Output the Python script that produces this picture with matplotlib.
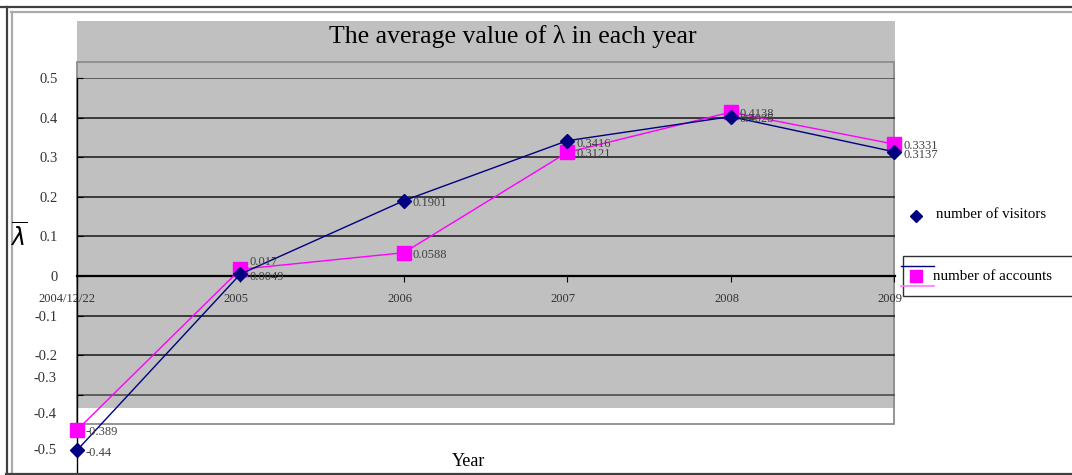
import numpy as np
import matplotlib
matplotlib.use("Agg")
from matplotlib import pyplot as plt
from matplotlib import transforms
from matplotlib.patches import Rectangle
from matplotlib.lines import Line2D

# data
x_labels = ["2004/12/22", "2005", "2006", "2007", "2008", "2009"]
visitors = [-0.44, 0.0049, 0.1901, 0.3416, 0.4025, 0.3137]
accounts = [-0.389, 0.017, 0.0588, 0.3121, 0.4138, 0.3331]
visitor_labels = ["-0.44", "0.0049", "0.1901", "0.3416", "0.4025", "0.3137"]
account_labels = ["-0.389", "0.017", "0.0588", "0.3121", "0.4138", "0.3331"]
grid_values = [0.5, 0.4, 0.3, 0.2, 0.1, 0.0, -0.1, -0.2, -0.3]
grid_labels = ["0.5", "0.4", "0.3", "0.2", "0.1", "0", "-0.1", "-0.2", ""]

plt.rcParams["font.family"] = ["Liberation Serif", "DejaVu Serif"]

W, H = 1072, 475
fig = plt.figure(figsize=(W / 100, H / 100), dpi=100)


def fx(px):
    return px / W


def fy(py):
    return 1 - py / H


# frame lines (double border)
fig.lines.append(Line2D([fx(0), fx(W)], [fy(6.5), fy(6.5)], color="#404040", lw=1.6, transform=fig.transFigure))
fig.lines.append(Line2D([fx(11), fx(W)], [fy(11.5), fy(11.5)], color="#aaaaaa", lw=1.6, transform=fig.transFigure))
fig.lines.append(Line2D([fx(6.5), fx(6.5)], [fy(6.5), fy(475)], color="#404040", lw=1.6, transform=fig.transFigure))
fig.lines.append(Line2D([fx(11.5), fx(11.5)], [fy(11.5), fy(475)], color="#aaaaaa", lw=1.6, transform=fig.transFigure))
fig.lines.append(Line2D([fx(6), fx(W)], [fy(474), fy(474)], color="#404040", lw=1.6, transform=fig.transFigure))

# gray plot area + inner box
fig.patches.append(Rectangle((fx(77), fy(408)), fx(895) - fx(77), fy(21) - fy(408),
                             facecolor="#c0c0c0", edgecolor="none", transform=fig.transFigure, zorder=-2))
fig.patches.append(Rectangle((fx(77), fy(424)), fx(894.5) - fx(77), fy(62) - fy(424),
                             facecolor="none", edgecolor="#8c8c8c", lw=1.3, transform=fig.transFigure, zorder=-1))

# data axes: y from -0.5 (px 474) to 0.5 (px 78)
ax = fig.add_axes([fx(77), fy(474), fx(895) - fx(77), fy(78) - fy(474)])
ax.set_facecolor("none")
x = np.arange(len(x_labels))
ax.set_xlim(0, 5.006)
ax.set_ylim(-0.5, 0.5)

ax.spines["top"].set_visible(False)
ax.spines["right"].set_visible(False)
ax.spines["left"].set_color("black")
ax.spines["left"].set_linewidth(1.0)
ax.spines["bottom"].set_position(("data", 0))
ax.spines["bottom"].set_color("black")
ax.spines["bottom"].set_linewidth(1.6)

for g in grid_values:
    ax.axhline(g, color="#303030" if g != 0.5 and g != -0.3 else "#555555", lw=1.3, zorder=1)

ax.set_yticks(grid_values)
ax.set_yticklabels(grid_labels)
ax.tick_params(axis="y", direction="in", length=4, pad=14, labelsize=10.5, labelcolor="#333333")
ax.set_xticks(x)
ax.set_xticklabels(x_labels)
ax.tick_params(axis="x", direction="out", length=4, pad=8.5, labelsize=9, labelcolor="#333333")
for i, lab in enumerate(ax.get_xticklabels()):
    shift = -10 if i == 0 else -4
    lab.set_transform(lab.get_transform() + transforms.ScaledTranslation(shift / 100, 0, fig.dpi_scale_trans))

# misplaced lower tick labels as in the original
for lab, py in zip(["-0.3", "-0.4", "-0.5"], [379, 415, 450]):
    fig.text(fx(57), fy(py), lab, ha="right", va="center", fontsize=10.5, color="#333333")

ax.plot(x, visitors, color="#000080", lw=1.0, marker="D", markersize=7, zorder=4, clip_on=False)
ax.plot(x, accounts, color="#ff00ff", lw=1.0, marker="s", markersize=9.5, zorder=3, clip_on=False)

for i in range(len(x)):
    ax.annotate(visitor_labels[i], (x[i], visitors[i]), xytext=(6.5, -2), textcoords="offset points",
                ha="left", va="center", fontsize=9, color="#404040", zorder=6)
    dy = 5 if account_labels[i] == "0.017" else -1.5
    ax.annotate(account_labels[i], (x[i], accounts[i]), xytext=(6.5, dy), textcoords="offset points",
                ha="left", va="center", fontsize=9, color="#404040", zorder=6)

# title, axis labels
fig.text(fx(513), fy(37), "The average value of λ in each year", ha="center", va="center", fontsize=18.5)
fig.text(fx(469), fy(462), "Year", ha="center", va="center", fontsize=13)
fig.text(fx(19), fy(237), r"$\overline{\lambda}$", ha="center", va="center", fontsize=17)

# legend (visitors entry outside, accounts inside a box)
fig.lines.append(Line2D([fx(916)], [fy(216)], marker="D", color="#000080", markersize=6, ls="none", transform=fig.transFigure))
fig.text(fx(936), fy(214), "number of visitors", ha="left", va="center", fontsize=10.8)
fig.patches.append(Rectangle((fx(903), fy(296)), fx(1080) - fx(903), fy(256) - fy(296),
                             facecolor="white", edgecolor="#303030", lw=1.0, transform=fig.transFigure, zorder=2))
fig.lines.append(Line2D([fx(901), fx(934)], [fy(265.5), fy(265.5)], color="#000080", lw=1.0, transform=fig.transFigure, zorder=3))
fig.lines.append(Line2D([fx(901), fx(934)], [fy(286), fy(286)], color="#ff77ff", lw=1.2, transform=fig.transFigure, zorder=3))
fig.lines.append(Line2D([fx(916)], [fy(276)], marker="s", color="#ff00ff", markersize=8, ls="none", transform=fig.transFigure, zorder=3))
t = fig.text(fx(933), fy(276), "number of accounts", ha="left", va="center", fontsize=10.8)
t.set_zorder(4)

fig.savefig("out.png", dpi=100)
